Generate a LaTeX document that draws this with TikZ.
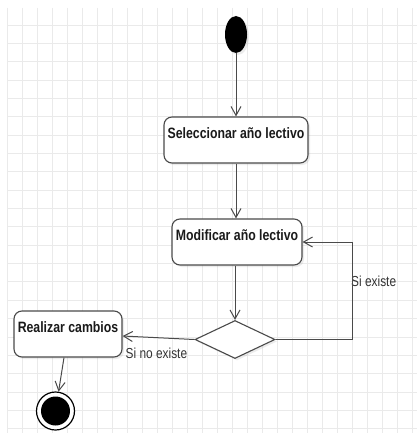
\documentclass[tikz,border=0pt]{standalone}
\usepackage{fontspec}
\newfontfamily\diafont{Liberation Sans}[FakeStretch=0.82]
\usetikzlibrary{shapes.geometric,arrows.meta,shadows,calc}
\definecolor{gridc}{HTML}{EAEAEA}
\definecolor{linec}{HTML}{4A4A4A}
\definecolor{txtc}{HTML}{1A1A1A}
\definecolor{lblc}{HTML}{333333}
\tikzset{
  activity/.style={draw=linec, line width=1.1pt, rounded corners=8pt, fill=white,
    inner xsep=0pt, inner ysep=0pt, text height=21.5pt, text depth=24.5pt,
    font=\diafont\bfseries\fontsize{15}{18}\selectfont, text=txtc,
    drop shadow={shadow xshift=2pt, shadow yshift=-2pt, opacity=0.15}},
  decision/.style={diamond, draw=linec, line width=1.1pt, fill=white,
    minimum width=80pt, minimum height=38pt, inner sep=0pt,
    drop shadow={shadow xshift=2pt, shadow yshift=-2pt, opacity=0.15}},
  startst/.style={ellipse, fill=black, minimum width=22pt, minimum height=37pt, inner sep=0pt,
    drop shadow={shadow xshift=2pt, shadow yshift=-2pt, opacity=0.15}},
  finouter/.style={circle, draw=black, line width=1.2pt, fill=white, minimum size=38pt, inner sep=0pt},
  fininner/.style={circle, fill=black, minimum size=29pt, inner sep=0pt},
  lbl/.style={inner sep=0pt, font=\diafont\fontsize{14.5}{17}\selectfont, text=lblc},
  arr/.style={draw=linec, line width=1pt, -{Straight Barb[length=9pt,width=10pt]}},
  gridline/.style={draw=gridc, line width=0.9pt}
}
\begin{document}
\begin{tikzpicture}[x=1pt,y=-1pt]
\useasboundingbox (0,0) rectangle (417,433);
\fill[white] (0,0) rectangle (417,433);
% grid
\foreach \i in {0,...,27} \draw[gridline] ({7.7+15*\i},7.7) -- ({7.7+15*\i},433);
\foreach \j in {0,...,22} \draw[gridline] (7.7,{25+18.35*\j}) -- (417,{25+18.35*\j});
% nodes
\node[startst] (ini) at (236,34.5) {};
\node[activity, minimum width=144pt] (sel) at (236,140) {Seleccionar año lectivo};
\node[activity, minimum width=130pt] (mod) at (237,242) {Modificar año lectivo};
\node[decision] (dec) at (235,339.5) {};
\node[activity, minimum width=108pt] (rc) at (68,334) {Realizar cambios};
\node[finouter] (fin) at (55.5,411) {};
\node[fininner] (fini) at (fin) {};
\coordinate (lp) at (352,339.5);
\node[lbl, anchor=base west] (lsi) at (351,286) {Si existe};
\node[lbl, anchor=base west] (lno) at (125.5,358) {Si no existe};
% connectors
\draw[arr] (ini) -- (sel);
\draw[arr] (sel.south) -- (sel.south |- mod.north);
\draw[arr] (mod.south -| dec.north) -- (dec.north);
\draw[arr] (dec.east) -- (lp) |- (mod.east);
\draw[arr] (dec.west) -- ([yshift=-2pt]rc.east);
\draw[arr] ([xshift=-4pt]rc.south) -- (fin);
\end{tikzpicture}
\end{document}
